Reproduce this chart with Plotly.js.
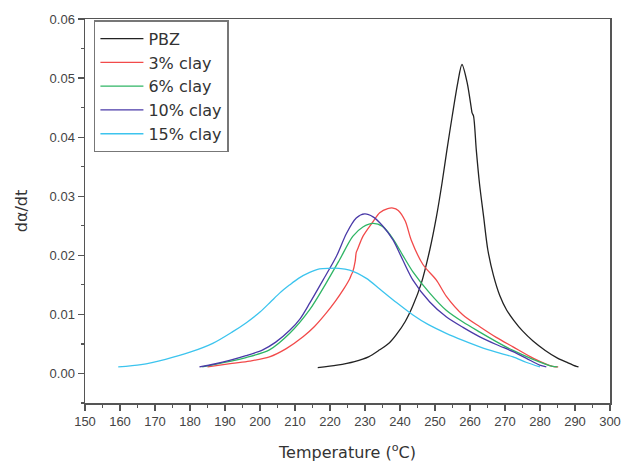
<!DOCTYPE html>
<html>
<head>
<meta charset="utf-8">
<script src="https://cdn.plot.ly/plotly-3.0.1.min.js"></script>
<style>html,body{margin:0;padding:0;background:#fff;}#chart{width:621px;height:465px;}</style>
</head>
<body>
<div id="chart"></div>
<script>
const seriesNames = ["PBZ", "3% clay", "6% clay", "10% clay", "15% clay"];
const seriesColors = ["#222222", "#f24a4a", "#2fb565", "#4a3aa8", "#3cc4ee"];

const pbzT = [216.5,222,227,231,234.2,237,239,241.5,243.7,246.1,248.5,250.4,252,253.4,254.9,256.5,257.7,259.2,260.4,260.6,261,261.8,262.7,263.9,265.1,266.7,268.5,270.5,272.5,275,278,281.5,285,288,290.4,291];
const pbzY = [0.001,0.0014,0.002,0.0028,0.004,0.0052,0.0066,0.0088,0.0115,0.0153,0.0209,0.0265,0.0322,0.0378,0.0435,0.0492,0.0523,0.0492,0.0448,0.0441,0.0436,0.0378,0.0322,0.0265,0.0209,0.0166,0.0132,0.0107,0.009,0.0072,0.0055,0.0039,0.0026,0.0018,0.0012,0.0011];

const clay3T = [185,192,197,202.7,207.5,212.3,215.5,218.9,221.5,223.7,225.6,226.1,226.5,227.2,227.5,228,229.4,232.3,234.2,236.5,238,239.5,241.5,243.2,246.6,250.4,253.2,258,262.8,267.5,272.3,278,283.6,285.2];
const clay3Y = [0.0011,0.0017,0.0021,0.0028,0.0042,0.0062,0.0079,0.0102,0.0122,0.0141,0.016,0.0167,0.0172,0.019,0.0205,0.0212,0.0232,0.0257,0.0272,0.0279,0.028,0.0276,0.0258,0.0226,0.0184,0.0158,0.0131,0.0099,0.0079,0.0061,0.0045,0.0026,0.0012,0.0011];

const clay6T = [183.5,191,196,202.7,208.5,214.2,218.9,222.7,226.5,229.4,232.3,235,238,240.8,243.7,248.5,253.2,258,262.8,267.5,272.3,278,283.6,285];
const clay6Y = [0.0011,0.002,0.0027,0.004,0.0068,0.0108,0.0153,0.0192,0.0232,0.0248,0.0254,0.0249,0.0228,0.02,0.0172,0.0136,0.0107,0.0087,0.007,0.0054,0.0039,0.0024,0.0012,0.0011];

const clay10T = [182.7,187,191.3,196,200.8,204.5,208.5,211.5,214.2,218,221.8,224.7,227.5,229.9,232.3,235,238,240.8,243.7,248.5,253.2,258,262.8,267.5,272.3,276,279.9,281.8];
const clay10Y = [0.0011,0.0016,0.0022,0.003,0.004,0.0053,0.0073,0.0093,0.0119,0.0158,0.0198,0.0237,0.0263,0.027,0.0265,0.025,0.0226,0.0192,0.0158,0.0121,0.0096,0.0078,0.0062,0.0049,0.0037,0.0026,0.0014,0.0011];

const clay15T = [159.5,166,173,180,186.5,192,196.1,200,203,205.6,208.5,211,214.2,217,219.9,222.5,225.6,230.4,234.2,239,243.7,248,253.2,258,262.8,267.5,272.3,276,280];
const clay15Y = [0.0011,0.0015,0.0024,0.0036,0.0051,0.007,0.0086,0.0104,0.0121,0.0136,0.015,0.0161,0.0171,0.0177,0.0178,0.0178,0.0175,0.0161,0.0143,0.012,0.0099,0.0083,0.0068,0.0056,0.0045,0.0036,0.0028,0.0019,0.0011];

const xTickVals = [150,160,170,180,190,200,210,220,230,240,250,260,270,280,290,300];
const yTickVals = [0.00,0.01,0.02,0.03,0.04,0.05,0.06];

const xs = [pbzT, clay3T, clay6T, clay10T, clay15T];
const ys = [pbzY, clay3Y, clay6Y, clay10Y, clay15Y];

const traces = seriesNames.map((n, i) => ({
  x: xs[i], y: ys[i], name: n, type: 'scatter', mode: 'lines',
  line: {color: seriesColors[i], width: 1.3, shape: 'spline', smoothing: 0.8}
}));

const axisCommon = {
  showgrid: false, zeroline: false, showline: true, linecolor: '#555', linewidth: 1.5,
  mirror: true, ticks: 'outside', ticklen: 6, tickwidth: 1.3, tickcolor: '#555',
  tickfont: {family: 'Liberation Sans, Arial, sans-serif', size: 13, color: '#444'}
};

const layout = {
  width: 621, height: 465,
  margin: {l: 85, r: 11, t: 19, b: 62},
  paper_bgcolor: '#fff', plot_bgcolor: '#fff',
  showlegend: true,
  legend: {
    x: 0.017, y: 0.997, xanchor: 'left', yanchor: 'top',
    bgcolor: '#fff', bordercolor: '#777', borderwidth: 1.5,
    font: {family: 'DejaVu Sans, sans-serif', size: 16, color: '#333'},
    itemwidth: 43, tracegroupgap: 0
  },
  xaxis: Object.assign({}, axisCommon, {
    range: [150, 300], tickvals: xTickVals, ticktext: xTickVals.map(String),
    minor: {dtick: 5, tick0: 150, ticks: 'outside', ticklen: 3, tickcolor: '#555', tickwidth: 1.2},
    title: {text: 'Temperature (<sup>o</sup>C)', standoff: 18,
      font: {family: 'DejaVu Sans, sans-serif', size: 16, color: '#333'}}
  }),
  yaxis: Object.assign({}, axisCommon, {
    range: [-0.005, 0.06], tickvals: yTickVals, tickformat: '.2f',
    minor: {dtick: 0.005, tick0: 0, ticks: 'outside', ticklen: 3, tickcolor: '#555', tickwidth: 1.2},
    title: {text: 'dα/dt', standoff: 18,
      font: {family: 'DejaVu Sans, sans-serif', size: 16, color: '#333'}}
  })
};

Plotly.newPlot('chart', traces, layout, {displayModeBar: false, staticPlot: true});
</script>
</body>
</html>
